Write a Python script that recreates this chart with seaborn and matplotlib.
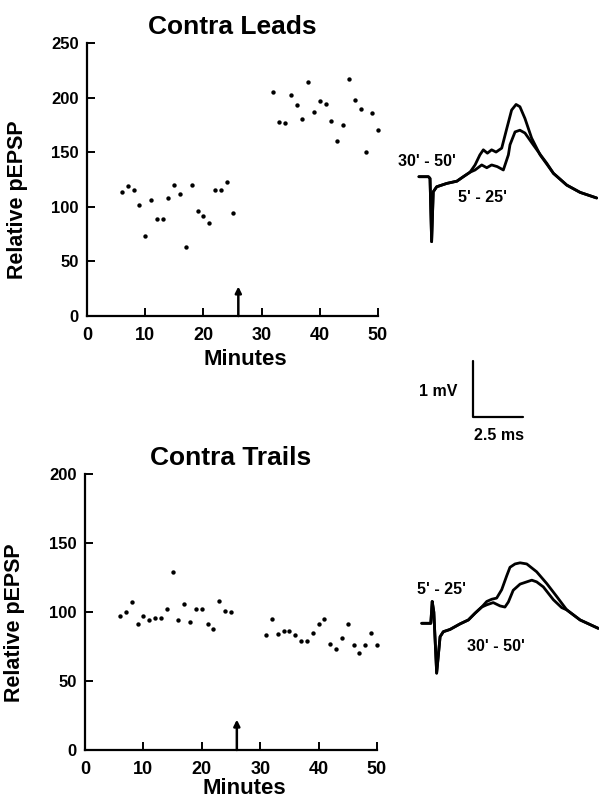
import numpy as np
import pandas as pd
import matplotlib
matplotlib.use('Agg')
import matplotlib.pyplot as plt
import seaborn as sns

# ---- data ----
# Contra Leads: relative pEPSP per minute
leads_min = [6, 7, 8, 9, 10, 11, 12, 13, 14, 15, 16, 17, 18, 19, 20, 21, 22, 23, 24, 25,
             32, 33, 34, 35, 36, 37, 38, 39, 40, 41, 42, 43, 44, 45, 46, 47, 48, 49, 50]
leads_val = [114, 119, 115, 102, 73, 106, 89, 89, 108, 120, 112, 63, 120, 96, 92, 85, 115, 115, 123, 94,
             205, 178, 177, 202, 193, 180, 214, 187, 197, 194, 179, 160, 175, 217, 198, 190, 150, 186, 170]

# Contra Trails
trails_min = [6, 7, 8, 9, 10, 11, 12, 13, 14, 15, 16, 17, 18, 19, 20, 21, 22, 23, 24, 25,
              31, 32, 33, 34, 35, 36, 37, 38, 39, 40, 41, 42, 43, 44, 45, 46, 47, 48, 49, 50]
trails_val = [97, 100, 107, 91, 97, 94, 96, 96, 102, 129, 94, 106, 93, 102, 102, 91, 88, 108, 101, 100,
              83, 95, 84, 86, 86, 83, 79, 79, 85, 91, 95, 77, 73, 81, 91, 76, 70, 76, 85, 76]

arrow_min = 26

# averaged field potential traces (ms after stimulus, mV from baseline)
leads_start_t = [-0.50, -0.03, 0.05, 0.13, 0.21, 0.38, 0.88, 1.38, 1.70, 2.03]
leads_start_v = [0.0, 0.0, -0.03, -1.16, -0.27, -0.18, -0.12, -0.08, 0.0, 0.08]
leads_late_t = [2.28, 2.52, 2.69, 2.89, 3.10, 3.32, 3.60, 3.85, 4.09, 4.31, 4.50, 4.75, 5.08, 5.50]
leads_late_v = [0.21, 0.39, 0.48, 0.42, 0.48, 0.44, 0.51, 0.86, 1.19, 1.29, 1.25, 1.04, 0.69, 0.39]
leads_early_t = [2.28, 2.61, 2.86, 3.10, 3.38, 3.68, 3.93, 4.01, 4.26, 4.50, 4.75, 5.16, 5.58, 5.83]
leads_early_v = [0.12, 0.21, 0.16, 0.21, 0.18, 0.12, 0.39, 0.57, 0.80, 0.83, 0.78, 0.57, 0.36, 0.24]
leads_decay_t = [6.16, 6.82, 7.48, 8.30]
leads_decay_v = [0.06, -0.15, -0.28, -0.38]

trails_start_t = [-0.46, -0.01, 0.06, 0.14, 0.28, 0.45, 0.61, 0.94, 1.44, 1.85, 2.18, 2.51]
trails_start_v = [0.0, 0.0, 0.39, 0.20, -0.89, -0.24, -0.15, -0.11, -0.01, 0.06, 0.18, 0.29]
trails_early_t = [2.76, 3.01, 3.25, 3.50, 3.75, 3.91, 4.16, 4.41, 4.74, 5.23, 5.73, 6.22]
trails_early_v = [0.39, 0.43, 0.45, 0.60, 0.85, 1.00, 1.06, 1.08, 1.06, 0.92, 0.71, 0.48]
trails_late_t = [2.76, 3.08, 3.42, 3.66, 3.83, 4.07, 4.41, 4.74, 4.99, 5.23, 5.56, 6.06, 6.47]
trails_late_v = [0.33, 0.37, 0.31, 0.29, 0.38, 0.59, 0.70, 0.74, 0.77, 0.74, 0.65, 0.42, 0.28]
trails_decay_t = [6.72, 7.38, 8.28]
trails_decay_v = [0.24, 0.06, -0.09]

scale_ms = 2.5
scale_mv = 1.0

# ---- style ----
sns.set_style('white')
plt.rcParams['font.family'] = ['Liberation Sans', 'DejaVu Sans']
plt.rcParams.update({'text.color': 'black', 'axes.labelcolor': 'black',
                     'xtick.color': 'black', 'ytick.color': 'black'})

W, H = 599, 801
fig = plt.figure(figsize=(W / 100, H / 100), dpi=100)


def scatter_panel(rect, minutes, values, ymax, title, arrow_top, ylab_y, xlab_y):
    ax = fig.add_axes(rect)
    df = pd.DataFrame({'Minutes': minutes, 'pEPSP': values})
    sns.scatterplot(data=df, x='Minutes', y='pEPSP', color='black', s=10,
                    linewidth=0, ax=ax, clip_on=False)
    ax.set_xlim(0, 50)
    ax.set_ylim(0, ymax)
    ax.set_xticks([0, 10, 20, 30, 40, 50])
    ax.set_yticks(np.arange(0, ymax + 1, 50))
    sns.despine(ax=ax)
    for s in ['left', 'bottom']:
        ax.spines[s].set_linewidth(1.6)
        ax.spines[s].set_color('black')
    ax.tick_params(direction='in', length=6, width=1.4, color='black',
                   bottom=True, left=True)
    ax.tick_params(axis='x', labelsize=13, pad=8)
    ax.tick_params(axis='y', labelsize=12, pad=6)
    for lab in ax.get_xticklabels() + ax.get_yticklabels():
        lab.set_fontweight('bold')
    ax.annotate('', xy=(arrow_min, arrow_top), xytext=(arrow_min, 0),
                arrowprops=dict(arrowstyle='-|>', lw=1.8, color='black',
                                mutation_scale=9, shrinkA=0, shrinkB=0))
    ax.set_title(title, fontsize=19, fontweight='bold', y=1.058, pad=0, va='center')
    ax.set_xlabel('Minutes', fontsize=16, fontweight='bold')
    ax.set_ylabel('Relative pEPSP', fontsize=15.5, fontweight='bold')
    ax.xaxis.set_label_coords(0.545, xlab_y)
    ax.xaxis.label.set_va('center')
    ax.yaxis.set_label_coords(-0.24, ylab_y)
    ax.yaxis.label.set_va('center')
    return ax


scatter_panel([87 / W, 1 - 316 / H, 291 / W, 273 / H], leads_min, leads_val, 250,
              'Contra Leads', 27, 0.425, -0.161)
scatter_panel([85 / W, 1 - 750 / H, 292 / W, 276 / H], trails_min, trails_val, 200,
              'Contra Trails', 22, 0.46, -0.141)

# traces: fixed physical scale (px per ms, px per mV)
MS_PX = 20.2
MV_PX = 56.0


def trace_axes(x0_px, base_px, xlim, ylim):
    left = x0_px + xlim[0] * MS_PX
    w = (xlim[1] - xlim[0]) * MS_PX
    top = base_px - ylim[1] * MV_PX
    h = (ylim[1] - ylim[0]) * MV_PX
    ax = fig.add_axes([left / W, 1 - (top + h) / H, w / W, h / H])
    ax.set_xlim(xlim)
    ax.set_ylim(ylim)
    ax.axis('off')
    return ax


def draw_trace(ax, start_t, start_v, mid_t, mid_v, end_t, end_v):
    ax.plot(start_t + mid_t + end_t, start_v + mid_v + end_v, color='black',
            lw=2.0, solid_joinstyle='round', solid_capstyle='round')


tax1 = trace_axes(429, 176.7, (-1, 8.6), (-1.5, 1.6))
draw_trace(tax1, leads_start_t, leads_start_v, leads_late_t, leads_late_v, leads_decay_t, leads_decay_v)
draw_trace(tax1, leads_start_t, leads_start_v, leads_early_t, leads_early_v, leads_decay_t, leads_decay_v)

tax2 = trace_axes(431, 623.3, (-1, 8.6), (-1.2, 1.4))
draw_trace(tax2, trails_start_t, trails_start_v, trails_early_t, trails_early_v, trails_decay_t, trails_decay_v)
draw_trace(tax2, trails_start_t, trails_start_v, trails_late_t, trails_late_v, trails_decay_t, trails_decay_v)

# scale bar
sax = trace_axes(472.7, 416.7, (-0.5, 3.5), (-0.5, 1.5))
sax.plot([0, 0, scale_ms], [scale_mv, 0, 0], color='black', lw=1.6)

lab_kw = dict(fontsize=11.5, fontweight='bold', ha='center', va='center')
fig.text(426.5 / W, 1 - 161.7 / H, "30' - 50'", **lab_kw)
fig.text(483 / W, 1 - 197.7 / H, "5' - 25'", **lab_kw)
fig.text(441.5 / W, 1 - 590 / H, "5' - 25'", **lab_kw)
fig.text(496 / W, 1 - 646.7 / H, "30' - 50'", **lab_kw)
fig.text(438 / W, 1 - 391 / H, '1 mV', **lab_kw)
fig.text(499 / W, 1 - 436 / H, '2.5 ms', **lab_kw)

fig.savefig('out.png', dpi=100)
